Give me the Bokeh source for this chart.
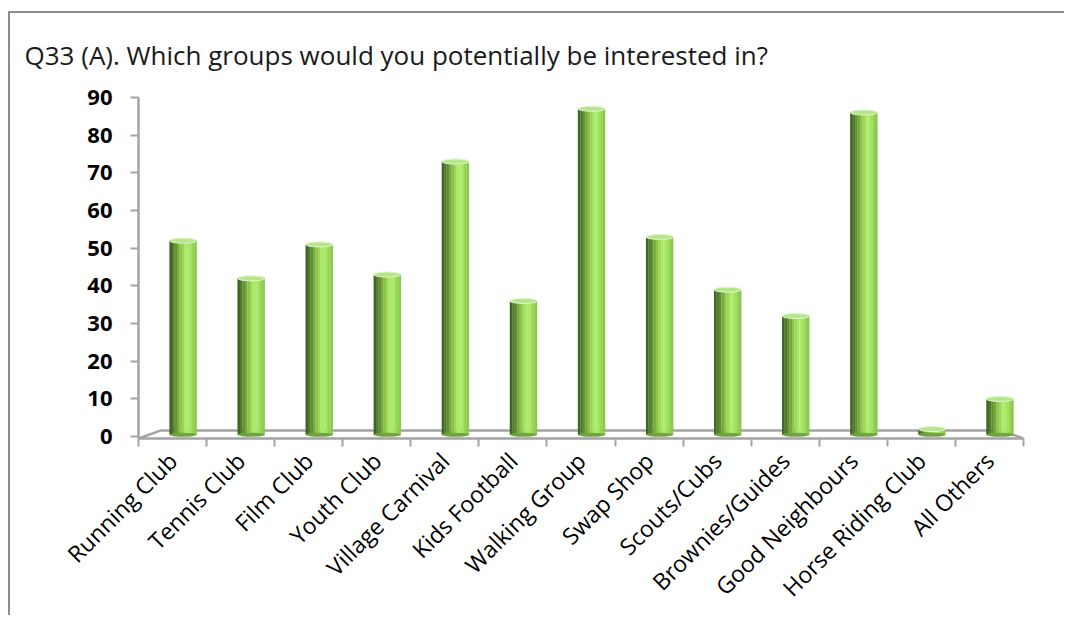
import math
from bokeh.plotting import figure
from bokeh.models import Range1d, FixedTicker
from bokeh.embed import file_html
from bokeh.resources import INLINE

# ---- data ----
categories = ["Running Club", "Tennis Club", "Film Club", "Youth Club", "Village Carnival",
              "Kids Football", "Walking Group", "Swap Shop", "Scouts/Cubs", "Brownies/Guides",
              "Good Neighbours", "Horse Riding Club", "All Others"]
values = [52, 42, 51, 43, 73, 36, 87, 53, 39, 32, 86, 2, 10]
y_ticks = [0, 10, 20, 30, 40, 50, 60, 70, 80, 90]
title_text = "Q33 (A). Which groups would you potentially be interested in?"

# ---- style ----
N = len(categories)
GRAY = "#a3a3a3"
FONT = "Open Sans"
bar_w = 0.40
bar_shift = 0.155
base = 0.5
depth_x = 0.32
depth_y = 1.6
front_y = -0.5
shades = ["#3f6622", "#4f7c2a", "#638f33", "#79a93e", "#8cc24a",
          "#9cd657", "#aae865", "#adec6a", "#a2e260", "#95d455", "#8bc84e"]

W, H = 1056, 604
p = figure(width=W, height=H, output_backend="svg", toolbar_location=None,
           x_range=Range1d(0, N), y_range=Range1d(front_y, y_ticks[-1]),
           min_border_left=128, min_border_right=43, min_border_top=84, min_border_bottom=178,
           background_fill_color="white", border_fill_color="white",
           styles={"border-top": "2px solid #8c8c8c", "border-left": "2px solid #8c8c8c",
                   "border-right": "0px none", "border-bottom": "0px none",
                   "margin-top": "11px", "margin-left": "8px"})
p.outline_line_color = None
p.xgrid.grid_line_color = None
p.ygrid.grid_line_color = None

# title
p.title.text = title_text
p.title.text_font = FONT
p.title.text_font_size = "26px"
p.title.text_font_style = "normal"
p.title.text_color = "#1a1a1a"
p.title.align = "left"
p.title.vertical_align = "top"
p.title.offset = -114
p.title.standoff = 45

# floor (3D base)
p.line(x=[0, depth_x, N - depth_x, N], y=[front_y, depth_y, depth_y, front_y],
       line_color=GRAY, line_width=2.5)

# cylinders built from vertical slices
S = len(shades)
sw = bar_w / S
for k, col in enumerate(shades):
    xs = [i + 0.5 + bar_shift + (k - (S - 1) / 2) * sw for i in range(N)]
    p.vbar(x=xs, top=values, bottom=base, width=sw * 1.08, fill_color=col, line_color=None)

centers = [i + 0.5 + bar_shift for i in range(N)]
p.ellipse(x=centers, y=[base] * N, width=bar_w, height=4, height_units="screen",
          fill_color="#6fa53a", line_color=None)
p.ellipse(x=centers, y=values, width=bar_w, height=5, height_units="screen",
          fill_color="#b6e68c", line_color="#e4f2d6", line_width=1)

# x axis
xa = p.xaxis[0]
xa.ticker = FixedTicker(ticks=[i + 0.5 for i in range(N)], minor_ticks=list(range(N + 1)))
xa.major_label_overrides = {i + 0.5: c for i, c in enumerate(categories)}
xa.major_label_orientation = math.pi / 4
xa.major_label_text_font = FONT
xa.major_label_text_font_size = "23px"
xa.major_label_text_color = "black"
xa.major_label_standoff = 10
xa.major_tick_out = 0
xa.major_tick_in = 0
xa.minor_tick_out = 8
xa.minor_tick_in = 0
xa.minor_tick_line_color = GRAY
xa.minor_tick_line_width = 2
xa.axis_line_color = GRAY
xa.axis_line_width = 2.5

# y axis
ya = p.yaxis[0]
ya.ticker = FixedTicker(ticks=y_ticks, minor_ticks=[])
ya.major_label_text_font = FONT
ya.major_label_text_font_size = "22px"
ya.major_label_text_font_style = "bold"
ya.major_label_text_color = "black"
ya.major_label_standoff = 18
ya.major_tick_out = 8
ya.major_tick_in = 0
ya.major_tick_line_color = GRAY
ya.major_tick_line_width = 2
ya.axis_line_color = GRAY
ya.axis_line_width = 2.5

open("out.html", "w").write(file_html(p, INLINE))
